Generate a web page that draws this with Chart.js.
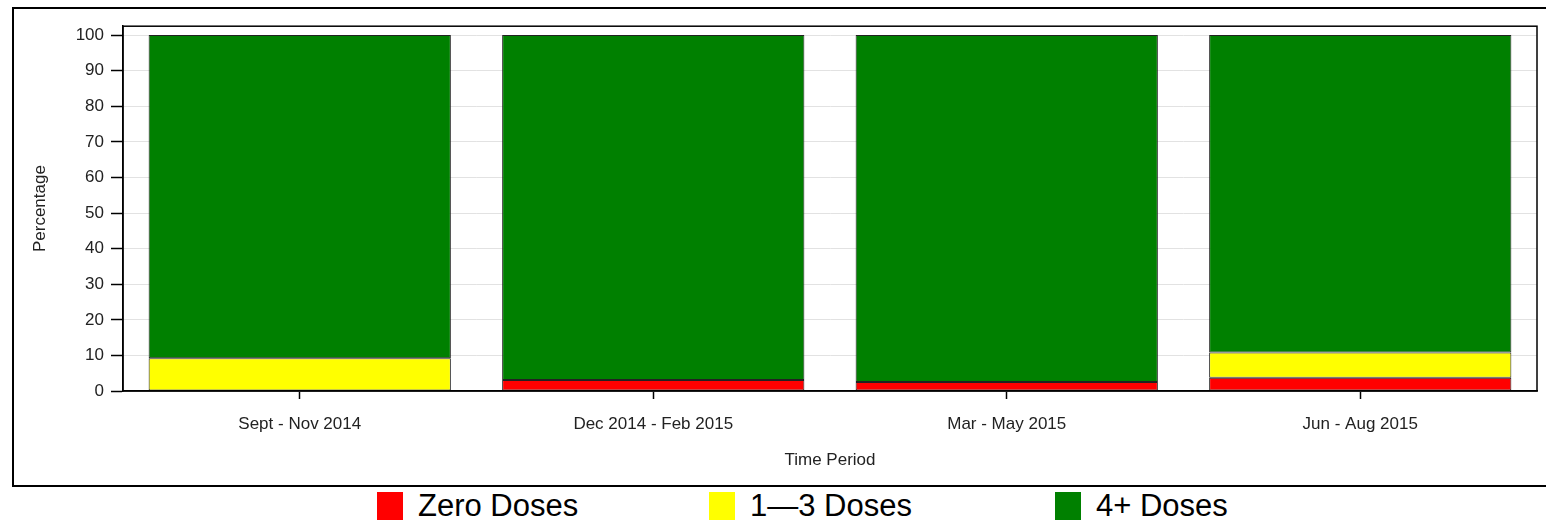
<!DOCTYPE html>
<html>
<head>
<meta charset="utf-8">
<script src="https://cdn.jsdelivr.net/npm/chart.js@4.4.0/dist/chart.umd.min.js"></script>
<style>
  body { margin: 0; background: #fff; width: 1546px; height: 523px; overflow: hidden; position: relative; }
  #frame { position: absolute; left: 12px; top: 7px; width: 1536px; height: 476px; border: 2px solid #000; }
  #legend { position: absolute; top: 488px; left: 377px; display: flex; font-family: "Liberation Sans", Arial, sans-serif; font-size: 31px; color: #000; }
  .item { display: flex; align-items: center; height: 36px; width: 332px; }
  .item:nth-child(2) { width: 346px; }
  .sw { width: 26px; height: 28px; margin-right: 15px; }
</style>
</head>
<body>
<div id="frame"><canvas id="chart" width="1536" height="476"></canvas></div>
<div id="legend"></div>
<script>
/* Doses by time period */
const periods = ['Sept - Nov 2014', 'Dec 2014 - Feb 2015', 'Mar - May 2015', 'Jun - Aug 2015'];
const zeroDoses = [0, 3.1, 2.5, 3.7];
const oneToThree = [9.2, 0, 0, 7.1];
const fourPlus = [90.8, 96.9, 97.5, 89.2];
const seriesNames = ['Zero Doses', '1\u20143 Doses', '4+ Doses'];
const seriesColors = ['#ff0000', '#ffff00', '#008000'];
const yTicks = [0, 10, 20, 30, 40, 50, 60, 70, 80, 90, 100];

const font = { family: 'Liberation Sans, Arial, sans-serif', size: 17 };

// box around the plot area
const plotBox = {
    id: 'plotBox',
    afterDraw(chart) {
        const a = chart.chartArea, c = chart.ctx;
        c.save();
        c.strokeStyle = '#000';
        c.lineWidth = 1.5;
        c.strokeRect(a.left, a.top, a.right - a.left, a.bottom - a.top);
        c.restore();
    }
};

const seriesData = [zeroDoses, oneToThree, fourPlus];

new Chart(document.getElementById('chart'), {
    type: 'bar',
    data: {
        labels: periods,
        datasets: seriesNames.map((n, i) => ({
            label: n,
            data: seriesData[i],
            backgroundColor: seriesColors[i],
            borderColor: '#222',
            borderWidth: 1,
            borderSkipped: false,
            barPercentage: 0.855,
            categoryPercentage: 1
        }))
    },
    options: {
        responsive: false,
        animation: false,
        layout: { padding: { top: 13, right: 13, left: 12, bottom: 10 } },
        plugins: { legend: { display: false }, tooltip: { enabled: false } },
        scales: {
            x: {
                stacked: true,
                offset: true,
                grid: { display: true, drawOnChartArea: false, offset: false, tickLength: 8, tickColor: '#000', tickWidth: 1.5 },
                border: { color: '#000', width: 1.5 },
                ticks: { color: '#222', font: font, padding: 15, maxRotation: 0 },
                title: { display: true, text: 'Time Period', color: '#222', font: font, padding: { top: 4, bottom: 4 } },
                afterFit(s) { s.height = 84; }
            },
            y: {
                stacked: true,
                min: 0,
                max: 102.5,
                afterBuildTicks(s) { s.ticks = yTicks.map(v => ({ value: v })); },
                grid: { color: '#e2e2e2', tickLength: 12, tickColor: '#000', tickWidth: 1.5 },
                border: { color: '#000', width: 1.5 },
                ticks: { color: '#222', font: font, padding: 7 },
                title: { display: true, text: 'Percentage', color: '#222', font: font, padding: { top: 4, bottom: 4 } },
                afterFit(s) { s.width = 97; }
            }
        }
    },
    plugins: [plotBox]
});

// legend below the frame
const lg = document.getElementById('legend');
lg.innerHTML = seriesNames.map((n, i) =>
    `<div class="item"><div class="sw" style="background:${seriesColors[i]}"></div><span>${n}</span></div>`
).join('');
</script>
</body>
</html>
